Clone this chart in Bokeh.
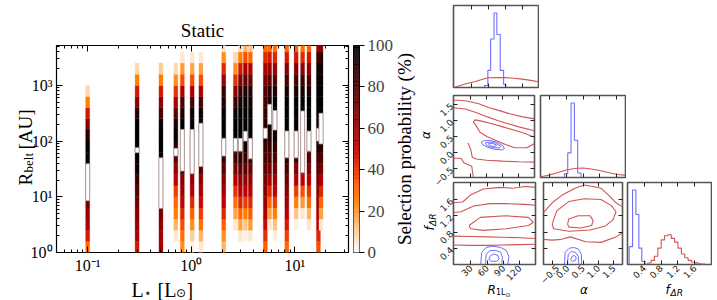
import math
import numpy as np
from bokeh.plotting import figure
from bokeh.models import (Range1d, FixedTicker, LinearAxis, LogAxis, CustomLabelingPolicy,
                          CustomJSTickFormatter, Label, ColumnDataSource)
from bokeh.transform import linear_cmap
from bokeh.layouts import row, column
from bokeh.embed import file_html
from bokeh.resources import INLINE

SERIF = "Liberation Serif"
SANS = "DejaVu Sans"
RED = "#d05555"
BLUE = "#6f6fff"

# ---------------- left panel data ----------------
star_lum = [0.1, 0.3, 0.51, 0.71, 0.82, 1.02, 1.24, 2.06, 2.67, 2.98, 3.33, 3.72,
            5.19, 5.71, 6.43, 8.38, 10.3, 11.9, 13.7, 16.9, 17.9]
log_rbelt_edges = [0.0, 0.2, 0.4, 0.6, 0.8, 1.0, 1.2, 1.4, 1.6, 1.8, 2.0,
                   2.2, 2.4, 2.6, 2.8, 3.0, 3.2, 3.4, 3.6, 3.8]
sel_prob = [
    [30, 45, 55, 60, 70, 90, 90, 90, 95, 100, 90, 65, 45, 25, 8, 0, 0, 0, 0],
    [45, 55, 60, 65, 70, 78, 85, 95, 100, 100, 100, 98, 90, 65, 45, 25, 8, 0, 0],
    [55, 58, 62, 68, 90, 90, 90, 90, 98, 100, 100, 95, 80, 62, 45, 25, 10, 0, 0],
    [0, 5, 15, 25, 30, 38, 50, 60, 75, 90, 98, 92, 75, 55, 40, 22, 8, 0, 0],
    [22, 28, 35, 42, 50, 58, 65, 75, 95, 95, 95, 100, 92, 80, 55, 35, 20, 5, 0],
    [3, 10, 22, 32, 42, 52, 62, 75, 95, 95, 95, 100, 95, 80, 55, 35, 18, 5, 0],
    [5, 15, 28, 38, 48, 55, 62, 75, 95, 95, 95, 98, 95, 80, 55, 35, 18, 5, 0],
    [15, 22, 32, 42, 50, 58, 65, 75, 85, 95, 100, 100, 100, 92, 85, 62, 42, 22, 5],
    [0, 0, 5, 18, 28, 40, 52, 65, 80, 92, 100, 100, 95, 82, 60, 40, 22, 8, 0],
    [0, 5, 18, 30, 42, 52, 62, 75, 88, 95, 100, 100, 100, 95, 85, 65, 45, 25, 7],
    [0, 3, 12, 25, 38, 50, 62, 75, 85, 95, 100, 100, 100, 100, 92, 75, 55, 35, 15],
    [0, 5, 20, 32, 42, 52, 62, 72, 85, 95, 100, 100, 100, 95, 90, 72, 52, 30, 12],
    [32, 40, 48, 55, 60, 65, 70, 75, 80, 85, 88, 88, 85, 82, 78, 68, 55, 42, 30],
    [0, 0, 5, 18, 30, 42, 55, 68, 78, 85, 92, 95, 95, 95, 88, 75, 60, 45, 30],
    [0, 3, 12, 25, 38, 50, 60, 70, 80, 88, 95, 100, 100, 100, 92, 78, 60, 42, 28],
    [30, 38, 45, 52, 58, 65, 72, 80, 88, 95, 100, 100, 100, 100, 95, 82, 65, 45, 30],
    [0, 0, 3, 12, 25, 38, 52, 65, 80, 90, 97, 100, 100, 100, 95, 82, 65, 45, 30],
    [0, 0, 0, 5, 20, 35, 50, 60, 90, 90, 90, 90, 100, 100, 95, 85, 62, 42, 28],
    [0, 0, 5, 15, 28, 40, 52, 65, 78, 90, 95, 100, 100, 100, 92, 80, 62, 45, 30],
    [35, 42, 50, 55, 60, 65, 70, 75, 82, 90, 95, 100, 100, 100, 100, 98, 95, 85, 55],
    [0, 0, 5, 18, 30, 42, 55, 68, 80, 90, 95, 100, 100, 100, 100, 98, 95, 88, 60],
]
belt_r_lo = [8.5, 62, 6.2, 54, 29, 26, 35, 54, 66, 66, 100, 48, 112, 200, 158, 50, 50, 27, 66, 100, 89]
belt_r_hi = [39, 76, 50, 74, 162, 162, 209, 112, 112, 112, 150, 112, 170, 457, 355, 151, 151, 347, 151, 170, 316]

heat_ticks = [0.1, 1, 10]
heat_minor_x = [0.06, 0.07, 0.08, 0.09, 0.2, 0.3, 0.4, 0.5, 0.6, 0.7, 0.8, 0.9,
                2, 3, 4, 5, 6, 7, 8, 9, 20, 30]
rbelt_ticks = [1, 10, 100, 1000]
rbelt_minor = [m * d for d in (1, 10, 100, 1000) for m in range(2, 10) if m * d < 5200]
cbar_ticks = [0, 20, 40, 60, 80, 100]

# ---------------- corner plot data ----------------
r_ticks = [30, 60, 90, 120]
a_ticks = [-0.5, 0.0, 0.5, 1.0, 1.5]
f_ticks = [0.4, 0.8, 1.2, 1.6]

r_hist_blue_edges = [53, 59, 64, 70, 75, 81, 87, 91]
r_hist_blue = [0.026, 0.23, 0.65, 1.0, 0.71, 0.23, 0.04]
r_hist_red_x = [-2, 10, 20, 35, 50, 60, 75, 90, 105, 120, 135, 149]
r_hist_red = [0.0, 0.028, 0.05, 0.078, 0.11, 0.13, 0.135, 0.133, 0.124, 0.112, 0.096, 0.078]

a_hist_blue_edges = [-0.06, 0.04, 0.14, 0.24, 0.34, 0.44]
a_hist_blue = [0.05, 0.33, 1.0, 0.5, 0.06]
a_hist_red_x = [-0.78, -0.5, -0.25, 0.0, 0.25, 0.5, 0.75, 1.0, 1.25, 1.5, 1.78]
a_hist_red = [0.011, 0.033, 0.066, 0.1, 0.12, 0.127, 0.115, 0.094, 0.066, 0.044, 0.028]

f_hist_blue_edges = [0.04, 0.12, 0.20, 0.27, 0.34, 0.42]
f_hist_blue = [0.24, 1.0, 0.67, 0.22, 0.04]
f_hist_red_edges = [0.48, 0.56, 0.64, 0.72, 0.80, 0.88, 0.96, 1.04, 1.12, 1.20, 1.28,
                    1.36, 1.44, 1.52, 1.60, 1.68, 1.76, 1.84]
f_hist_red = [0.02, 0.055, 0.11, 0.22, 0.33, 0.385, 0.40, 0.35, 0.30, 0.22, 0.14,
              0.09, 0.055, 0.033, 0.022, 0.011, 0.005]

ra_red1_r = [-2, 10, 25, 45, 65, 85, 105, 125, 149]
ra_red1_a = [1.63, 1.63, 1.6, 1.52, 1.4, 1.3, 1.2, 1.12, 1.05]
ra_red2_r = [-2, 20, 40, 60, 80, 100, 120, 149]
ra_red2_a = [1.4, 1.36, 1.25, 1.12, 1.0, 0.9, 0.8, 0.68]
ra_red3_r = [149, 130, 110, 90, 70, 50, 38, 35, 40, 47, 60, 76, 95, 112, 135, 149]
ra_red3_a = [0.48, 0.6, 0.7, 0.8, 0.9, 0.98, 1.02, 0.95, 0.84, 0.64, 0.5, 0.38, 0.25, 0.15, 0.15, 0.28]
ra_red4_r = [25, 30, 33, 40, 60, 90, 120, 149]
ra_red4_a = [0.3, 0.1, -0.15, -0.2, -0.24, -0.27, -0.29, -0.3]
ra_red5_r = [-2, 12, 18, 32, 35]
ra_red5_a = [-0.18, -0.18, -0.33, -0.43, -0.78]
ra_blue1_r = [50, 55, 65, 78, 90, 93, 88, 75, 62, 52, 50]
ra_blue1_a = [0.33, 0.37, 0.38, 0.33, 0.22, 0.12, 0.08, 0.1, 0.16, 0.25, 0.33]
ra_blue2_r = [57, 65, 76, 86, 84, 72, 60, 57]
ra_blue2_a = [0.3, 0.33, 0.3, 0.2, 0.14, 0.15, 0.22, 0.3]
ra_blue3_r = [63, 70, 78, 76, 68, 63]
ra_blue3_a = [0.27, 0.29, 0.24, 0.19, 0.2, 0.27]

rf_red1_r = [-2, 15, 30, 53, 83, 107, 130, 149]
rf_red1_f = [1.52, 1.54, 1.72, 1.86, 1.90, 1.88, 1.92, 1.90]
rf_red2_r = [-2, 12, 35, 65, 95, 130, 149]
rf_red2_f = [1.28, 1.30, 1.44, 1.50, 1.50, 1.48, 1.46]
rf_red3_r = [26.6, 47.4, 94.8, 136, 145, 136, 94.8, 53.3, 29.6, 26.6]
rf_red3_f = [0.96, 1.16, 1.20, 1.16, 1.04, 0.96, 0.88, 0.84, 0.88, 0.96]
rf_red4_r = [-2, 30, 60, 90, 120, 149]
rf_red4_f = [0.70, 0.69, 0.68, 0.67, 0.66, 0.64]
rf_red5_r = [-2, 30, 60, 90, 120, 149]
rf_red5_f = [0.48, 0.47, 0.47, 0.48, 0.49, 0.50]
rf_blue1_r = [48, 50, 58, 70, 85, 95, 100, 98]
rf_blue1_f = [0.0, 0.3, 0.42, 0.45, 0.42, 0.35, 0.2, 0.0]
rf_blue2_r = [57, 58, 65, 75, 85, 88, 87]
rf_blue2_f = [0.02, 0.25, 0.34, 0.35, 0.3, 0.18, 0.02]
rf_blue3_r = [63, 66, 73, 80, 82, 78, 68, 63]
rf_blue3_f = [0.12, 0.22, 0.26, 0.22, 0.14, 0.08, 0.08, 0.12]

af_red1_a = [-0.78, -0.5, -0.155, 0.24, 0.536, 0.831, 1.08, 1.37, 1.57, 1.78]
af_red1_f = [1.28, 1.52, 1.72, 1.88, 1.96, 1.92, 1.88, 1.68, 1.52, 1.42]
af_red2_a = [-0.5, -0.35, 0.04, 0.54, 1.08, 1.42, 1.57, 1.47, 1.23, 0.73, 0.04, -0.45, -0.5]
af_red2_f = [1.00, 1.32, 1.55, 1.62, 1.60, 1.45, 1.30, 1.10, 0.95, 0.85, 0.82, 0.88, 1.00]
af_red3_a = [0.0, 0.04, 0.34, 0.73, 0.83, 0.78, 0.44, 0.04, 0.0]
af_red3_f = [1.00, 1.12, 1.20, 1.20, 1.08, 0.96, 0.90, 0.92, 1.00]
af_red4_a = [-0.78, -0.5, -0.2, 0.09, 0.59, 1.08, 1.57, 1.78]
af_red4_f = [0.62, 0.60, 0.62, 0.68, 0.56, 0.545, 0.68, 0.78]
af_blue1_a = [-0.1, -0.08, 0.05, 0.2, 0.35, 0.45, 0.45]
af_blue1_f = [0.0, 0.3, 0.4, 0.42, 0.38, 0.25, 0.0]
af_blue2_a = [0.0, 0.02, 0.12, 0.25, 0.35, 0.36]
af_blue2_f = [0.02, 0.25, 0.32, 0.3, 0.2, 0.02]
af_blue3_a = [0.1, 0.14, 0.22, 0.28, 0.26, 0.16, 0.1]
af_blue3_f = [0.12, 0.2, 0.22, 0.18, 0.1, 0.08, 0.12]


# ---------------- helpers ----------------
def heat_palette(n=256):
    out = []
    for i in range(n):
        x = 1.0 - i / (n - 1)
        r = min(1.0, 1.5 * x)
        g = min(1.0, max(0.0, 2 * x - 1))
        b = min(1.0, max(0.0, 4 * x - 3))
        out.append("#%02x%02x%02x" % (round(r * 255), round(g * 255), round(b * 255)))
    return out


PAL = heat_palette()

LOG_FMT = CustomJSTickFormatter(code="""
const s = {'-':'\u207b','0':'\u2070','1':'\u00b9','2':'\u00b2','3':'\u00b3'};
const e = Math.round(Math.log10(tick));
return '10' + String(e).split('').map(c => s[c]).join('');
""")


def num_fmt(dec):
    return CustomJSTickFormatter(code="""
const s = Math.abs(tick).toFixed(%d);
return (tick < -1e-9 ? '\\u2212' : '') + s;
""" % dec)


def hide_labels(ax):
    ax.major_label_policy = CustomLabelingPolicy(code="for (const i of indices) indices.unset(i)")
    ax.major_label_text_font_size = "1px"
    ax.major_label_standoff = 0


def style_heat_axis(ax, show):
    ax.axis_line_color = None
    ax.major_tick_in = 6
    ax.major_tick_out = 0
    ax.minor_tick_in = 3
    ax.minor_tick_out = 0
    ax.major_tick_line_color = "black"
    ax.minor_tick_line_color = "black"
    if show:
        ax.major_label_text_font = SERIF
        ax.major_label_text_font_size = "16px"
        ax.major_label_text_color = "black"
        ax.major_label_standoff = 4
    else:
        hide_labels(ax)


def style_corner_axis(ax, show):
    ax.axis_line_color = None
    ax.major_tick_in = 4
    ax.major_tick_out = 0
    ax.minor_tick_line_color = None
    ax.major_tick_line_color = "#222222"
    ax.major_tick_line_width = 1
    if show:
        ax.major_label_text_font = SANS
        ax.major_label_text_font_size = "9px"
        ax.major_label_text_color = "#222222"
        ax.major_label_orientation = math.pi / 4
        ax.major_label_standoff = 2
    else:
        hide_labels(ax)


# ---------------- left heatmap ----------------
hm = figure(width=352, height=300, x_axis_type="log", y_axis_type="log",
            x_range=Range1d(0.05, 33), y_range=Range1d(1, 5200),
            x_axis_location=None, y_axis_location=None,
            toolbar_location=None, output_backend="svg",
            min_border_left=56, min_border_right=2, min_border_top=45, min_border_bottom=48)
hm.grid.grid_line_color = None
hm.outline_line_color = "black"
hm.outline_line_width = 1.2

half = 10 ** 0.0193
cells = dict(left=[], right=[], bottom=[], top=[], p=[])
for L, probs in zip(star_lum, sel_prob):
    for k, pv in enumerate(probs):
        if pv <= 0:
            continue
        cells["left"].append(L / half)
        cells["right"].append(L * half)
        cells["bottom"].append(10 ** log_rbelt_edges[k])
        cells["top"].append(10 ** log_rbelt_edges[k + 1])
        cells["p"].append(pv)
cmap = linear_cmap("p", PAL, 0, 100)
hm.quad(left="left", right="right", bottom="bottom", top="top",
        source=ColumnDataSource(cells), fill_color=cmap, line_color=cmap, line_width=0.3)

belt = ColumnDataSource(dict(left=[L / half for L in star_lum], right=[L * half for L in star_lum],
                             bottom=belt_r_lo, top=belt_r_hi))
hm.quad(left="left", right="right", bottom="bottom", top="top", source=belt,
        fill_color="white", line_color="#b89a9a", line_width=0.8)

for loc in ("below", "above"):
    ax = LogAxis(ticker=FixedTicker(ticks=heat_ticks, minor_ticks=heat_minor_x), formatter=LOG_FMT)
    style_heat_axis(ax, loc == "below")
    hm.add_layout(ax, loc)
for loc in ("left", "right"):
    ax = LogAxis(ticker=FixedTicker(ticks=rbelt_ticks, minor_ticks=rbelt_minor), formatter=LOG_FMT)
    style_heat_axis(ax, loc == "left")
    hm.add_layout(ax, loc)

# ---------------- colorbar ----------------
cb = figure(width=68, height=300, x_range=Range1d(0, 1), y_range=Range1d(0, 100),
            x_axis_location=None, y_axis_location=None, toolbar_location=None,
            output_backend="svg", min_border_left=1, min_border_right=61,
            min_border_top=45, min_border_bottom=48)
cb.grid.grid_line_color = None
cb.outline_line_color = "black"
cb.outline_line_width = 1.0
lv = np.linspace(0, 100, 257)
cb.quad(left=0, right=1, bottom=lv[:-1], top=lv[1:], fill_color=PAL, line_color=PAL, line_width=0.3)
cax = LinearAxis(ticker=FixedTicker(ticks=cbar_ticks))
cax.axis_line_color = None
cax.major_tick_in = 0
cax.major_tick_out = 5
cax.minor_tick_line_color = None
cax.major_label_text_font = SERIF
cax.major_label_text_font_size = "17px"
cax.major_label_standoff = 3
cb.add_layout(cax, "right")

# ---------------- corner plot ----------------
R_RANGE = (-2.0, 149.0)
A_RANGE = (-0.78, 1.78)
F_RANGE = (0.0, 2.02)
H_RANGE = (0.0, 1.1)


def corner_panel(xr, yr, w, h, bl, br, bt, bb, xticks, xdec, xlab, yticks=None, ydec=1, ylab=False):
    p = figure(width=w, height=h, x_range=Range1d(*xr), y_range=Range1d(*yr),
               x_axis_location=None, y_axis_location=None, toolbar_location=None,
               output_backend="svg", min_border_left=bl, min_border_right=br,
               min_border_top=bt, min_border_bottom=bb, border_fill_color=None,
               background_fill_color=None)
    p.grid.grid_line_color = None
    p.outline_line_color = "#555555"
    p.outline_line_width = 1.6
    for loc in ("below", "above"):
        ax = LinearAxis(ticker=FixedTicker(ticks=xticks), formatter=num_fmt(xdec))
        style_corner_axis(ax, loc == "below" and xlab)
        p.add_layout(ax, loc)
    if yticks is not None:
        for loc in ("left", "right"):
            ax = LinearAxis(ticker=FixedTicker(ticks=yticks), formatter=num_fmt(ydec))
            style_corner_axis(ax, loc == "left" and ylab)
            p.add_layout(ax, loc)
    return p


def step_hist(p, edges, heights, color):
    p.step(x=[edges[0]] + list(edges), y=[0] + list(heights) + [0], mode="after",
           line_color=color, line_width=1.1)


FW = 85
GAP_EXTRA = 14
f00 = corner_panel(R_RANGE, H_RANGE, 33 + FW + 1, 91, 33, 1, 5, 1, r_ticks, 0, False)
step_hist(f00, r_hist_blue_edges, r_hist_blue, BLUE)
f00.line(r_hist_red_x, r_hist_red, line_color=RED, line_width=1.1)

f10 = corner_panel(R_RANGE, A_RANGE, 33 + FW + 1, 87 + GAP_EXTRA, 33, 1, 1, 1 + GAP_EXTRA,
                   r_ticks, 0, False, a_ticks, 1, True)
for xs, ys in ((ra_red1_r, ra_red1_a), (ra_red2_r, ra_red2_a), (ra_red3_r, ra_red3_a),
               (ra_red4_r, ra_red4_a), (ra_red5_r, ra_red5_a)):
    f10.line(xs, ys, line_color=RED, line_width=1.1)
for xs, ys in ((ra_blue1_r, ra_blue1_a), (ra_blue2_r, ra_blue2_a), (ra_blue3_r, ra_blue3_a)):
    f10.line(xs, ys, line_color=BLUE, line_width=1.0)

f11 = corner_panel(A_RANGE, H_RANGE, 1 + FW + 1, 87 + GAP_EXTRA, 1, 1, 1, 1 + GAP_EXTRA,
                   a_ticks, 1, False)
step_hist(f11, a_hist_blue_edges, a_hist_blue, BLUE)
f11.line(a_hist_red_x, a_hist_red, line_color=RED, line_width=1.1)

f20 = corner_panel(R_RANGE, F_RANGE, 33 + FW + 1, 122, 33, 1, 1, 36, r_ticks, 0, True, f_ticks, 1, True)
for xs, ys in ((rf_red1_r, rf_red1_f), (rf_red2_r, rf_red2_f), (rf_red3_r, rf_red3_f),
               (rf_red4_r, rf_red4_f), (rf_red5_r, rf_red5_f)):
    f20.line(xs, ys, line_color=RED, line_width=1.1)
for xs, ys in ((rf_blue1_r, rf_blue1_f), (rf_blue2_r, rf_blue2_f), (rf_blue3_r, rf_blue3_f)):
    f20.line(xs, ys, line_color=BLUE, line_width=1.0)

f21 = corner_panel(A_RANGE, F_RANGE, 1 + FW + 1, 122, 1, 1, 1, 36, a_ticks, 1, True, f_ticks, 1, False)
for xs, ys in ((af_red1_a, af_red1_f), (af_red2_a, af_red2_f), (af_red3_a, af_red3_f),
               (af_red4_a, af_red4_f)):
    f21.line(xs, ys, line_color=RED, line_width=1.1)
for xs, ys in ((af_blue1_a, af_blue1_f), (af_blue2_a, af_blue2_f), (af_blue3_a, af_blue3_f)):
    f21.line(xs, ys, line_color=BLUE, line_width=1.0)

f22 = corner_panel(F_RANGE, H_RANGE, 1 + FW, 122, 1, 0, 1, 36, f_ticks, 1, True)
step_hist(f22, f_hist_blue_edges, f_hist_blue, BLUE)
step_hist(f22, f_hist_red_edges, f_hist_red, RED)

row2 = row(f20, f21, f22)
row2.margin = (-GAP_EXTRA, 0, 0, 0)
corner = column(row(f00), row(f10, f11), row2)
main = row(hm, cb, corner)

# ---------------- transparent text overlay (page pixel coordinates) ----------------
ov = figure(width=717, height=300, x_range=Range1d(0, 717), y_range=Range1d(300, 0),
            x_axis_location=None, y_axis_location=None, toolbar_location=None,
            output_backend="svg", min_border=0, background_fill_color=None,
            border_fill_color=None, outline_line_color=None)
ov.grid.grid_line_color = None
ov.margin = (-300, 0, 0, 0)


def txt(text, x, y, size, font=SERIF, angle=0.0, align="left", baseline="alphabetic", style="normal"):
    ov.add_layout(Label(x=x, y=y, text=text, text_font=font, text_font_size=size,
                        text_align=align, text_baseline=baseline, angle=angle,
                        text_font_style=style, text_color="black"))


V = math.pi / 2
txt("Static", 202, 30, "19px", align="center")
txt("R", 25, 185, "19px", angle=V)
txt("belt", 28, 172, "13px", angle=V)
txt("[AU]", 25, 149, "19px", angle=V)
txt("L", 131, 289, "20px")
txt("\u22c6", 143.5, 292, "12px", font=SANS)
txt("[L", 157, 289, "20px")
txt("\u2299", 175.5, 292, "12px", font=SANS)
txt("]", 186, 289, "20px")
txt("Selection probability (%)", 404, 148.5, "19px", angle=V, align="center", baseline="middle")
txt("\u03b1", 425, 134.5, "12px", font=SANS, angle=V, align="center", baseline="middle", style="italic")
txt("f", 429, 230, "12px", font=SANS, angle=V, style="italic")
txt("\u0394R", 432, 225.5, "9px", font=SANS, angle=V, style="italic")
txt("R", 487, 289, "12px", font=SANS, style="italic")
txt("1L", 495.5, 292, "8px", font=SANS)
txt("\u2299", 505, 294, "6px", font=SANS)
txt("\u03b1", 583.5, 289, "12px", font=SANS, align="center", style="italic")
txt("f", 665, 289, "12px", font=SANS, style="italic")
txt("\u0394R", 670, 292, "9px", font=SANS, style="italic")

layout = column(main, ov)

open("out.html", "w").write(file_html(layout, INLINE))
